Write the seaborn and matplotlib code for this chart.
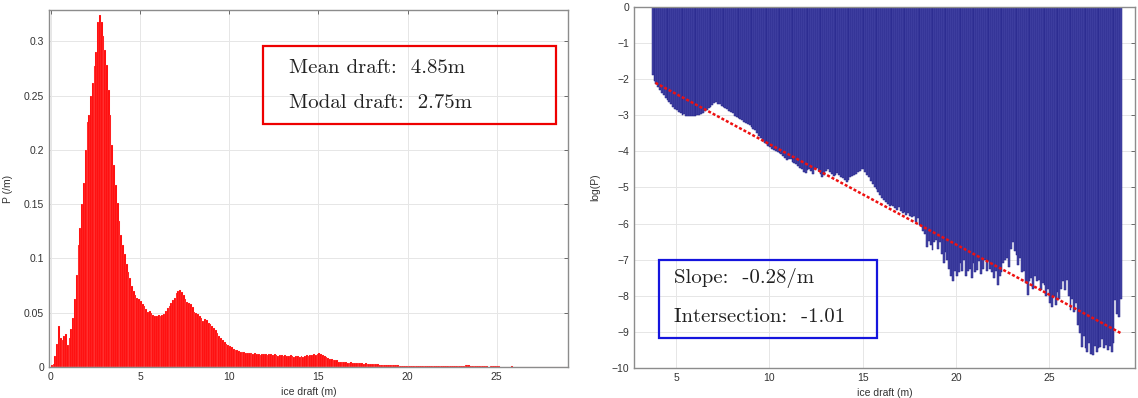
import numpy as np
import matplotlib
matplotlib.use('Agg')
import matplotlib.pyplot as plt
import seaborn as sns
from matplotlib.patches import Rectangle
from matplotlib.ticker import FuncFormatter

# Ice draft probability, 0.1 m bins starting at 0 m (left panel)
draft_p = [
    0.002, 0.003, 0.010, 0.021, 0.038, 0.027, 0.025, 0.029, 0.030, 0.020,
    0.027, 0.035, 0.045, 0.063, 0.085, 0.112, 0.128, 0.150, 0.170, 0.200,
    0.226, 0.232, 0.250, 0.262, 0.277, 0.290, 0.318, 0.324, 0.318, 0.305,
    0.292, 0.278, 0.255, 0.232, 0.205, 0.186, 0.168, 0.151, 0.135, 0.122,
    0.112, 0.104, 0.095, 0.088, 0.082, 0.075, 0.070, 0.066, 0.064, 0.063,
    0.061, 0.058, 0.056, 0.053, 0.051, 0.052, 0.050, 0.048, 0.047, 0.047,
    0.048, 0.047, 0.048, 0.049, 0.052, 0.054, 0.056, 0.059, 0.062, 0.064,
    0.068, 0.070, 0.071, 0.069, 0.066, 0.063, 0.060, 0.059, 0.058, 0.055,
    0.051, 0.050, 0.049, 0.047, 0.045, 0.042, 0.044, 0.043, 0.041, 0.040,
    0.038, 0.036, 0.034, 0.031, 0.029, 0.027, 0.025, 0.023, 0.021, 0.020,
    0.019, 0.018, 0.017, 0.016, 0.016, 0.015, 0.014, 0.014, 0.014, 0.013,
    0.013, 0.013, 0.013, 0.012, 0.013, 0.012, 0.012, 0.011, 0.012, 0.012,
    0.012, 0.011, 0.012, 0.012, 0.011, 0.012, 0.011, 0.010, 0.011, 0.011,
    0.010, 0.011, 0.010, 0.010, 0.011, 0.010, 0.009, 0.010, 0.010, 0.009,
    0.010, 0.009, 0.010, 0.011, 0.010, 0.011, 0.011, 0.012, 0.011, 0.012,
    0.013, 0.012, 0.011, 0.010, 0.009, 0.008, 0.007, 0.007, 0.006, 0.006,
    0.006, 0.005, 0.005, 0.005, 0.0045, 0.0045, 0.004, 0.004, 0.0042, 0.004,
    0.0038, 0.0036, 0.0035, 0.0035, 0.0033, 0.0032, 0.0034, 0.003, 0.0031, 0.0028,
    0.0027, 0.0026, 0.0025, 0.0024, 0.0023, 0.0022, 0.002, 0.0021, 0.0019, 0.0018,
    0.0017, 0.0016, 0.0015, 0.0016, 0.0014, 0.0013, 0.0012, 0.0012, 0.0011, 0.0011,
    0.0010, 0.0009, 0.0010, 0.0008, 0.0009, 0.0010, 0.0008, 0.0007, 0.0009, 0.0008,
    0.0008, 0.0009, 0.0008, 0.0007, 0.0008, 0.0007, 0.0008, 0.0009, 0.0007, 0.0008,
    0.0007, 0.0008, 0.0007, 0.0008, 0.0009, 0.0008, 0.0007, 0.0006, 0.0007, 0.0008,
    0.0010, 0.0012, 0.0015, 0.0018, 0.0016, 0.0012, 0.0009, 0.0008, 0.0007, 0.0006,
    0.0006, 0.0005, 0.0006, 0.0005, 0.0005, 0.0004, 0.0005, 0.0006, 0.0005, 0.0006,
    0.0006, 0.0005, 0.0004, 0.0004, 0.0004, 0.0003, 0.0004, 0.0004, 0.0005, 0.0004,
    0.0004, 0.0003, 0.0003, 0.0003, 0.0002, 0.0002, 0.0003, 0.0003, 0.0002, 0.0002,
    0.0002, 0.0002, 0.0001, 0.0001, 0.0001, 0.0001, 0.0001, 0.0001, 0.0002, 0.0002,
    0.0003, 0.0003, 0.0003, 0.0003, 0.0002, 0.0002, 0.0003, 0.0003, 0.0002, 0.0002,
]

# log(P), 0.1 m bins starting at 3.7 m (right panel)
log_p = [
    -1.88, -2.05, -2.14, -2.22, -2.30, -2.37, -2.45, -2.52, -2.58, -2.64,
    -2.70, -2.76, -2.82, -2.86, -2.92, -2.95, -2.98, -2.97, -3.01, -3.02,
    -3.02, -3.03, -3.01, -3.02, -3.00, -2.98, -2.96, -2.93, -2.88, -2.85,
    -2.80, -2.77, -2.72, -2.66, -2.64, -2.68, -2.70, -2.73, -2.76, -2.80,
    -2.83, -2.87, -2.90, -2.95, -3.02, -3.05, -3.08, -3.10, -3.14, -3.18,
    -3.20, -3.24, -3.28, -3.33, -3.38, -3.42, -3.50, -3.58, -3.63, -3.70,
    -3.76, -3.80, -3.84, -3.88, -3.92, -3.95, -3.98, -4.02, -4.05, -4.08,
    -4.12, -4.18, -4.24, -4.20, -4.22, -4.28, -4.32, -4.36, -4.40, -4.45,
    -4.50, -4.58, -4.60, -4.52, -4.48, -4.55, -4.62, -4.50, -4.46, -4.55,
    -4.62, -4.70, -4.66, -4.55, -4.50, -4.58, -4.62, -4.68, -4.64, -4.60,
    -4.66, -4.70, -4.74, -4.78, -4.84, -4.80, -4.72, -4.68, -4.66, -4.62,
    -4.58, -4.54, -4.50, -4.48, -4.56, -4.64, -4.72, -4.82, -4.90, -4.98,
    -5.05, -5.12, -5.20, -5.28, -5.34, -5.40, -5.45, -5.50, -5.48, -5.52,
    -5.58, -5.62, -5.55, -5.66, -5.72, -5.68, -5.75, -5.70, -5.78, -5.82,
    -5.80, -5.95, -5.84, -6.05, -6.04, -6.20, -6.30, -6.65, -6.48, -6.60,
    -6.73, -6.52, -6.45, -6.70, -6.50, -6.85, -7.10, -6.80, -7.00, -7.25,
    -7.45, -7.60, -7.30, -7.45, -7.33, -7.10, -7.30, -7.00, -7.45, -7.30,
    -7.25, -7.50, -7.10, -7.35, -7.28, -7.05, -7.40, -7.25, -7.00, -7.30,
    -7.05, -7.25, -7.35, -7.50, -7.30, -7.70, -7.45, -7.35, -7.10, -7.00,
    -6.95, -7.20, -6.70, -6.50, -6.75, -6.87, -7.15, -6.95, -7.35, -7.30,
    -7.65, -7.98, -7.60, -7.50, -7.80, -7.45, -7.60, -7.56, -7.85, -7.65,
    -7.70, -8.00, -7.80, -8.20, -8.30, -8.00, -8.25, -7.90, -8.10, -7.80,
    -7.60, -7.85, -7.56, -8.00, -8.40, -8.10, -8.45, -8.20, -8.80, -9.03,
    -9.41, -9.10, -9.45, -9.55, -9.30, -9.60, -9.64, -9.40, -9.55, -9.45,
    -9.41, -9.20, -9.45, -9.35, -9.50, -9.40, -9.55, -9.30, -8.12, -8.50,
    -8.60, -8.10,
]

# fitted line end points
fit_x = [3.9, 28.9]
fit_y = [-2.10, -9.05]

left_x = np.round(0.05 + 0.1 * np.arange(len(draft_p)), 2)
right_x = np.round(3.75 + 0.1 * np.arange(len(log_p)), 2)

sns.set_style('white')
plt.rcParams['font.family'] = ['Liberation Sans', 'DejaVu Sans']

fig = plt.figure(figsize=(11.38, 3.98), dpi=100)
ax1 = fig.add_axes([0.0431, 0.0779, 0.4561, 0.897])
ax2 = fig.add_axes([0.5571, 0.0754, 0.4402, 0.907])

serif = ['cmr10', 'DejaVu Serif']


def style_axes(ax):
    ax.grid(True, color='#e6e6e6', linewidth=0.7)
    ax.set_axisbelow(True)
    for s in ax.spines.values():
        s.set_color('#8c8c8c')
        s.set_linewidth(1.0)
        s.set_visible(True)
    ax.tick_params(direction='in', length=3, width=0.6, color='#555555',
                   top=True, right=True, labelsize=7.5, labelcolor='#333333')


# left: P histogram
sns.barplot(x=left_x, y=draft_p, native_scale=True, width=1, color='#ff0000',
            saturation=1, edgecolor='#ffd0d0', linewidth=0.12, errorbar=None, ax=ax1)
ax1.set_xlim(-0.1, 29)
ax1.set_ylim(0, 0.329)
ax1.set_xticks([0, 5, 10, 15, 20, 25])
ax1.set_yticks([0, 0.05, 0.1, 0.15, 0.2, 0.25, 0.3])
ax1.yaxis.set_major_formatter(FuncFormatter(lambda v, p: '%g' % v))
ax1.set_xlabel('ice draft (m)', fontsize=7.5, color='#333333', labelpad=4)
ax1.set_ylabel('P (/m)', fontsize=7.5, color='#333333', labelpad=8)
style_axes(ax1)

ax1.add_patch(Rectangle((0.412, 0.681), 0.565, 0.218, transform=ax1.transAxes,
                        fill=False, edgecolor='#ee0000', linewidth=1.6, zorder=5))
ax1.text(0.462, 0.824, 'Mean draft:  4.85m', transform=ax1.transAxes,
         fontsize=15, family=serif, color='#222222', va='baseline', zorder=6)
ax1.text(0.462, 0.725, 'Modal draft:  2.75m', transform=ax1.transAxes,
         fontsize=15, family=serif, color='#222222', va='baseline', zorder=6)

# right: log(P) bars with linear fit
sns.barplot(x=right_x, y=log_p, native_scale=True, width=1, color='#4848a8',
            saturation=1, edgecolor='#1e1e86', linewidth=0.35, errorbar=None, ax=ax2)
sns.lineplot(x=fit_x, y=fit_y, color='#ee1111', linewidth=1.8,
             dashes=False, ax=ax2)
ax2.lines[-1].set_linestyle((0, (1.2, 0.8)))
ax2.set_xlim(2.75, 29.6)
ax2.set_ylim(-10, 0)
ax2.set_xticks([5, 10, 15, 20, 25])
ax2.set_yticks(list(range(-10, 1)))
ax2.set_xlabel('ice draft (m)', fontsize=7.5, color='#333333', labelpad=4)
ax2.set_ylabel('log(P)', fontsize=7.5, color='#333333', labelpad=8)
style_axes(ax2)

ax2.add_patch(Rectangle((0.050, 0.083), 0.435, 0.216, transform=ax2.transAxes,
                        fill=False, edgecolor='#1515dd', linewidth=1.6, zorder=5))
ax2.text(0.080, 0.235, 'Slope:  -0.28/m', transform=ax2.transAxes,
         fontsize=15, family=serif, color='#222222', va='baseline', zorder=6)
ax2.text(0.080, 0.127, 'Intersection:  -1.01', transform=ax2.transAxes,
         fontsize=15, family=serif, color='#222222', va='baseline', zorder=6)

plt.savefig('out.png', dpi=100)
